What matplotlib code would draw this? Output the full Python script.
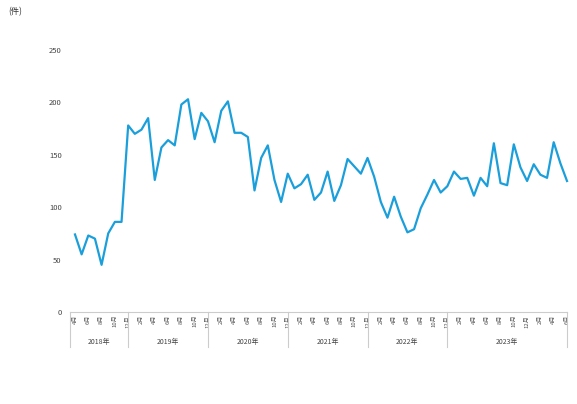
import matplotlib
matplotlib.use("Agg")
import matplotlib.pyplot as plt
import matplotlib.transforms as mtransforms

plt.rcParams['font.family'] = ['Noto Sans CJK JP', 'DejaVu Sans']

# 月別件数 2018年4月〜2024年6月
counts = [74, 55, 73, 70, 45, 75, 86, 86, 178, 170, 174, 185,
          126, 157, 164, 159, 198, 203, 165, 190, 182, 162, 192, 201,
          171, 171, 167, 116, 147, 159, 126, 105, 132, 118, 122, 131,
          107, 114, 134, 106, 121, 146, 139, 132, 147, 129, 105, 90,
          110, 91, 76, 79, 99, 112, 126, 114, 120, 134, 127, 128,
          111, 128, 120, 161, 123, 121, 160, 138, 125, 141, 131, 128,
          162, 142, 125]
months = [(4 + i - 1) % 12 + 1 for i in range(len(counts))]
month_labels = [str(m) + "月" for m in months]
years = ["2018年", "2019年", "2020年", "2021年", "2022年", "2023年"]
# 年区切りの位置 (12月のインデックス)
year_bounds = [-0.75, 8, 20, 32, 44, 56, 74]

x = list(range(len(counts)))

fig = plt.figure(figsize=(5.77, 4.04), dpi=100)
ax = fig.add_axes([70 / 577, (404 - 312) / 404, 497 / 577, 262 / 404])

ax.plot(x, counts, color="#1a9fdb", linewidth=1.6, clip_on=False)

ax.set_xlim(-0.75, 74)
ax.set_ylim(0, 250)
ax.set_yticks([0, 50, 100, 150, 200, 250])
ax.tick_params(axis="y", length=0, pad=6, labelsize=5.5, labelcolor="#444444")

ticks = x[::2]
ax.set_xticks(ticks)
ax.set_xticklabels([month_labels[i] for i in ticks], rotation=90,
                   fontsize=4.3, color="#555555")
ax.tick_params(axis="x", length=0, pad=2)

for s in ["top", "right", "left"]:
    ax.spines[s].set_visible(False)
ax.spines["bottom"].set_color("#cccccc")
ax.spines["bottom"].set_linewidth(0.8)

# 年ラベルと区切り線
trans = mtransforms.blended_transform_factory(ax.transData, ax.transAxes)
for b in year_bounds:
    ax.plot([b, b], [0, -0.135], color="#cccccc", linewidth=0.8,
            transform=trans, clip_on=False)
for k, yr in enumerate(years):
    cx = (year_bounds[k] + year_bounds[k + 1]) / 2
    ax.text(cx, -0.113, yr, transform=trans, ha="center", va="center",
            fontsize=5, color="#444444")

fig.text(8 / 577, 1 - 12 / 404, "(件)", ha="left", va="center",
         fontsize=6, color="#333333")

fig.savefig("out.png", dpi=100)
